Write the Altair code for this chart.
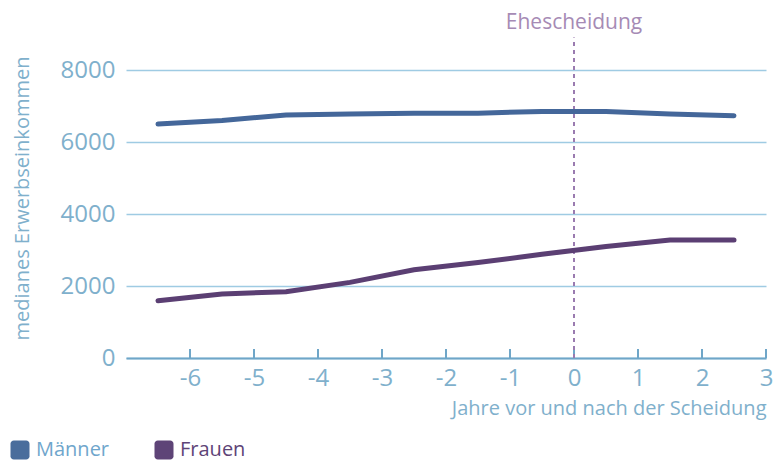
import altair as alt
import pandas as pd

years = [-6.5, -5.5, -4.5, -3.5, -2.5, -1.5, -0.5, 0.5, 1.5, 2.5]
maenner = [6500, 6600, 6750, 6780, 6800, 6800, 6850, 6850, 6780, 6730]
frauen = [1590, 1780, 1840, 2100, 2450, 2650, 2880, 3100, 3280, 3280]
x_ticks = [-6, -5, -4, -3, -2, -1, 0, 1, 2, 3]
y_ticks = [0, 2000, 4000, 6000, 8000]
series = ["Männer", "Frauen"]
colors = ["#44679a", "#5b3f73"]
legend_fill = ["#4a6d9c", "#5e4477"]
event_x = [0]
event_label = ["Ehescheidung"]

FONT = "Open Sans"
AX = "#7fb0cc"

rows = []
for x, m, f in zip(years, maenner, frauen):
    rows.append({"Jahr": x, "Wert": m, "Gruppe": "Männer"})
    rows.append({"Jahr": x, "Wert": f, "Gruppe": "Frauen"})
df = pd.DataFrame(rows)

xscale = alt.Scale(domain=[-7, 3], nice=False, zero=False)
yscale = alt.Scale(domain=[0, 9000], nice=False)

rounded = ("M -0.65,-1 L 0.65,-1 A 0.35 0.35 0 0 1 1,-0.65 L 1,0.65 A 0.35 0.35 0 0 1 0.65,1 "
           "L -0.65,1 A 0.35 0.35 0 0 1 -1,0.65 L -1,-0.65 A 0.35 0.35 0 0 1 -0.65,-1 Z")

x_axis = alt.Axis(values=x_ticks, title="Jahre vor und nach der Scheidung",
                  titleAnchor="end", titleAlign="right", titleFontSize=20,
                  titleFontWeight="normal", titleColor=AX, titlePadding=8,
                  labelFontSize=24, labelColor=AX, labelPadding=8,
                  labelExpr="'' + datum.value",
                  ticks=False, grid=False, domainColor="#6fa6c8",
                  domainWidth=2, labelFont=FONT, titleFont=FONT,
                  labelFlush=False)
y_axis = alt.Axis(values=y_ticks, title="medianes Erwerbseinkommen",
                  titleFontSize=20, titleFontWeight="normal", titleColor=AX,
                  labelFontSize=24, labelColor=AX, labelExpr="'' + datum.value",
                  labelPadding=11, ticks=False, domain=False,
                  gridColor="#9fcbe3", gridWidth=1.5, labelFont=FONT,
                  titleFont=FONT, titleAnchor="start", titleY=306,
                  titleX=-94, titleBaseline="bottom")

legend_pts = alt.Chart(df).mark_point(shape=rounded, filled=True, size=4).encode(
    x=alt.X("Jahr:Q", scale=xscale, axis=x_axis),
    y=alt.Y("Wert:Q", scale=yscale, axis=y_axis),
    fill=alt.Fill("Gruppe:N", scale=alt.Scale(domain=series, range=legend_fill),
                  legend=alt.Legend(orient="none", legendX=-116, legendY=406,
                                    direction="horizontal", title=None, padding=0,
                                    symbolType=rounded, symbolSize=361,
                                    symbolStrokeWidth=0, symbolOpacity=1,
                                    labelFontSize=20, labelFont=FONT,
                                    columnPadding=44, labelOffset=6,
                                    labelColor={"expr": "datum.value === 'Männer' ? '#6fa6cc' : '#5e4477'"})),
)

lines = alt.Chart(df).mark_line(strokeWidth=5, strokeCap="round").encode(
    x=alt.X("Jahr:Q", scale=xscale),
    y=alt.Y("Wert:Q", scale=yscale),
    color=alt.Color("Gruppe:N", scale=alt.Scale(domain=series, range=colors), legend=None),
)

tick_df = pd.DataFrame({"x": x_ticks, "y0": [0] * len(x_ticks), "y1": [250] * len(x_ticks)})
ticks = alt.Chart(tick_df).mark_rule(color="#6fa6c8", strokeWidth=2).encode(
    x=alt.X("x:Q", scale=xscale), y=alt.Y("y0:Q", scale=yscale), y2="y1:Q")

ev_df = pd.DataFrame({"x": event_x, "y0": [0], "y1": [8900], "label": event_label, "ty": [9000]})
rule = alt.Chart(ev_df).mark_rule(color="#9a7bb0", strokeWidth=2, strokeDash=[4, 4]).encode(
    x=alt.X("x:Q", scale=xscale), y=alt.Y("y0:Q", scale=yscale), y2="y1:Q")
label = alt.Chart(ev_df).mark_text(color="#a68bb5", fontSize=21, font=FONT,
                                   baseline="bottom", dy=-1, clip=False).encode(
    x=alt.X("x:Q", scale=xscale), y=alt.Y("ty:Q", scale=yscale), text="label:N")

chart = alt.layer(legend_pts, ticks, rule, lines, label).properties(
    width=640, height=324,
    autosize=alt.AutoSizeParams(type="none"),
    padding={"left": 118, "top": 26, "right": 7, "bottom": 103},
    background="white",
).configure_view(stroke=None)

chart.save("out.html", embed_options={"renderer": "svg", "actions": False})
